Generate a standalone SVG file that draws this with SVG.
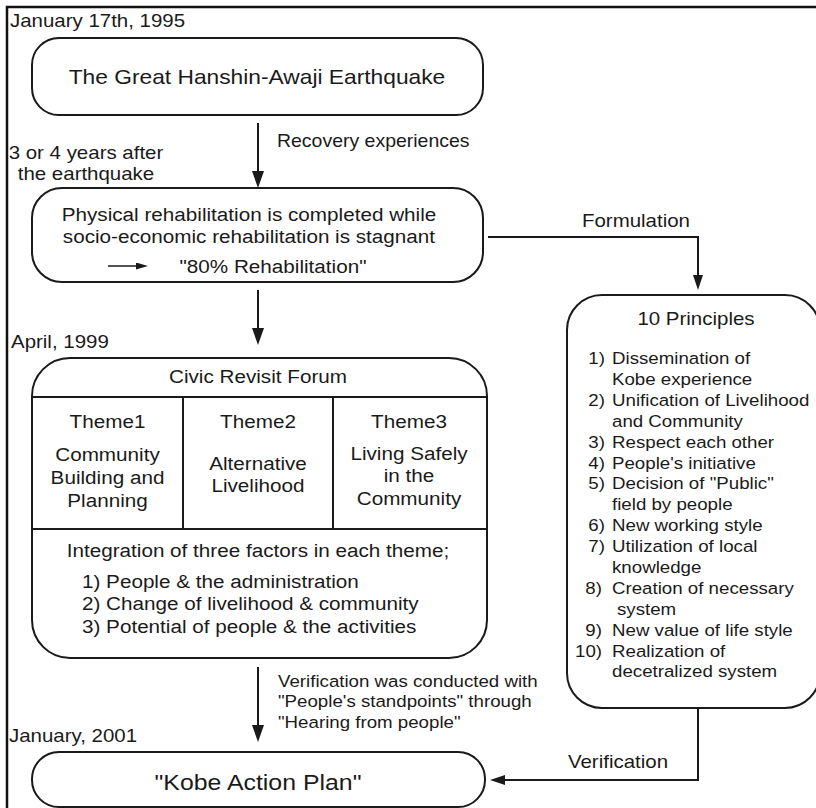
<svg xmlns="http://www.w3.org/2000/svg" width="816" height="808" viewBox="0 0 816 808">
  <style>
    text { font-family: "Liberation Sans", Arial, sans-serif; fill: #1a1a1a;
           transform-box: fill-box; transform: scaleX(1.1); transform-origin: left center; }
    .mid { text-anchor: middle; transform-origin: center; }
    .end { text-anchor: end; transform-origin: right center; }
    .lbl { font-size: 18.6px; }
    .rec { font-size: 17.7px; }
    .box { font-size: 18.8px; }
    .ttl { font-size: 20.7px; }
    .kobe { font-size: 22.6px; }
    .sm { font-size: 17px; }
    .shape { fill: #ffffff; stroke: #1a1a1a; stroke-width: 2; }
    .rule { stroke: #1a1a1a; stroke-width: 2; fill: none; }
    .wire { stroke: #1a1a1a; stroke-width: 2; fill: none; }
  </style>
  <defs>
    <marker id="headBig" viewBox="0 0 17 12" refX="9" refY="6" markerWidth="17" markerHeight="12" markerUnits="userSpaceOnUse" orient="auto">
      <path d="M0,0 L17,6 L0,12 Z" fill="#1a1a1a"/>
    </marker>
    <marker id="headMid" viewBox="0 0 15 10" refX="8" refY="5" markerWidth="15" markerHeight="10" markerUnits="userSpaceOnUse" orient="auto">
      <path d="M0,0 L15,5 L0,10 Z" fill="#1a1a1a"/>
    </marker>
    <marker id="headSmall" viewBox="0 0 12 7" refX="6" refY="3.5" markerWidth="12" markerHeight="7" markerUnits="userSpaceOnUse" orient="auto">
      <path d="M0,0 L12,3.5 L0,7 Z" fill="#1a1a1a"/>
    </marker>
  </defs>

  <rect width="816" height="808" fill="#ffffff"/>

  <!-- frame -->
  <path d="M7,808 L7,7 L816,7" fill="none" stroke="#111" stroke-width="2.5"/>

  <!-- time labels -->
  <g id="labels">
    <text class="lbl" x="10" y="27">January 17th, 1995</text>
    <text class="lbl mid" x="86" y="159.5">3 or 4 years after</text>
    <text class="lbl mid" x="86" y="180.5">the earthquake</text>
    <text class="lbl" x="11" y="348">April, 1999</text>
    <text class="lbl" x="9" y="742">January, 2001</text>
  </g>

  <!-- connectors -->
  <g id="connectors">
    <line class="wire" x1="258" y1="123" x2="258" y2="180" marker-end="url(#headBig)"/>
    <text class="rec" x="277" y="147">Recovery experiences</text>

    <path class="wire" d="M488,237 L698,237 L698,283" marker-end="url(#headMid)"/>
    <text class="lbl mid" x="636" y="227">Formulation</text>

    <line class="wire" x1="258" y1="290" x2="258" y2="337" marker-end="url(#headBig)"/>

    <line class="wire" x1="258" y1="667" x2="258" y2="734" marker-end="url(#headBig)"/>
    <text class="sm" x="278" y="687">Verification was conducted with</text>
    <text class="sm" x="278" y="707">"People's standpoints" through</text>
    <text class="sm" x="278" y="728">"Hearing from people"</text>

    <path class="wire" d="M698,708 L698,780 L497,780" marker-end="url(#headMid)"/>
    <text class="lbl mid" x="618" y="768">Verification</text>
  </g>

  <!-- earthquake -->
  <g id="earthquake">
    <rect class="shape" x="32" y="38" width="451" height="77" rx="27" ry="27"/>
    <text class="ttl mid" x="257" y="84">The Great Hanshin-Awaji Earthquake</text>
  </g>

  <!-- rehabilitation status -->
  <g id="rehabilitation">
    <rect class="shape" x="32" y="188" width="451" height="94" rx="30" ry="30"/>
    <text class="box mid" x="249" y="221">Physical rehabilitation is completed while</text>
    <text class="box mid" x="249" y="243">socio-economic rehabilitation is stagnant</text>
    <line x1="108" y1="266" x2="142" y2="266" stroke="#1a1a1a" stroke-width="1.5" marker-end="url(#headSmall)"/>
    <text class="box mid" x="273" y="273">"80% Rehabilitation"</text>
  </g>

  <!-- civic revisit forum -->
  <g id="forum">
    <rect class="shape" x="32" y="358" width="455" height="300" rx="38" ry="38"/>
    <line class="rule" x1="32" y1="397" x2="487" y2="397"/>
    <line class="rule" x1="32" y1="529" x2="487" y2="529"/>
    <line class="rule" x1="183" y1="397" x2="183" y2="529"/>
    <line class="rule" x1="333" y1="397" x2="333" y2="529"/>
    <text class="box mid" x="258" y="383">Civic Revisit Forum</text>

    <text class="box mid" x="107.5" y="428">Theme1</text>
    <text class="box mid" x="107.5" y="461">Community</text>
    <text class="box mid" x="107.5" y="484">Building and</text>
    <text class="box mid" x="107.5" y="507">Planning</text>

    <text class="box mid" x="258" y="428">Theme2</text>
    <text class="box mid" x="258" y="470">Alternative</text>
    <text class="box mid" x="258" y="492">Livelihood</text>

    <text class="box mid" x="409" y="428">Theme3</text>
    <text class="box mid" x="409" y="460">Living Safely</text>
    <text class="box mid" x="409" y="482">in the</text>
    <text class="box mid" x="409" y="505">Community</text>

    <text class="box mid" x="258" y="557">Integration of three factors in each theme;</text>
    <text class="box" x="82" y="588">1) People &amp; the administration</text>
    <text class="box" x="82" y="610">2) Change of livelihood &amp; community</text>
    <text class="box" x="82" y="633">3) Potential of people &amp; the activities</text>
  </g>

  <!-- ten principles -->
  <g id="principles">
    <rect class="shape" x="567" y="295" width="253" height="413" rx="35" ry="35"/>
    <text class="lbl mid" x="696" y="325">10 Principles</text>
    <text class="sm end" x="605" y="364">1)</text>
    <text class="sm" x="612" y="364">Dissemination of</text>
    <text class="sm" x="612" y="385">Kobe experience</text>
    <text class="sm end" x="605" y="406">2)</text>
    <text class="sm" x="612" y="406">Unification of Livelihood</text>
    <text class="sm" x="612" y="427">and Community</text>
    <text class="sm end" x="605" y="448">3)</text>
    <text class="sm" x="612" y="448">Respect each other</text>
    <text class="sm end" x="605" y="469">4)</text>
    <text class="sm" x="612" y="469">People's initiative</text>
    <text class="sm end" x="605" y="489">5)</text>
    <text class="sm" x="612" y="489">Decision of "Public"</text>
    <text class="sm" x="612" y="510">field by people</text>
    <text class="sm end" x="605" y="531">6)</text>
    <text class="sm" x="612" y="531">New working style</text>
    <text class="sm end" x="605" y="552">7)</text>
    <text class="sm" x="612" y="552">Utilization of local</text>
    <text class="sm" x="612" y="573">knowledge</text>
    <text class="sm end" x="602" y="594">8)</text>
    <text class="sm" x="612" y="594">Creation of necessary</text>
    <text class="sm" x="617" y="615">system</text>
    <text class="sm end" x="602" y="636">9)</text>
    <text class="sm" x="612" y="636">New value of life style</text>
    <text class="sm end" x="602" y="657">10)</text>
    <text class="sm" x="612" y="657">Realization of</text>
    <text class="sm" x="612" y="677">decetralized system</text>
  </g>

  <!-- action plan -->
  <g id="action-plan">
    <rect class="shape" x="32" y="752" width="453" height="55" rx="27" ry="27"/>
    <text class="kobe mid" x="258" y="790">"Kobe Action Plan"</text>
  </g>
</svg>
